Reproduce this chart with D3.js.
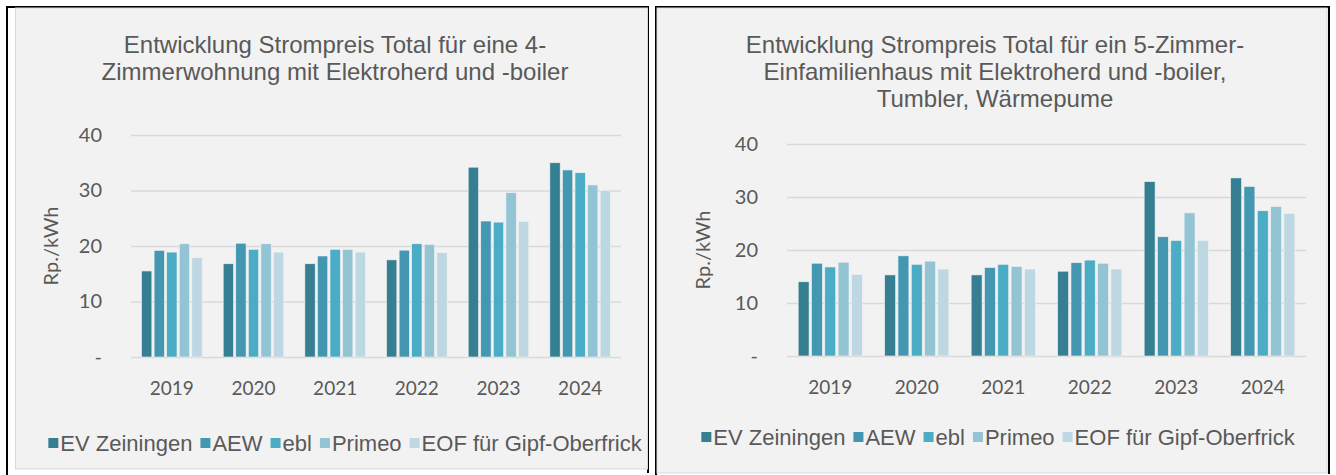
<!DOCTYPE html>
<html>
<head>
<meta charset="utf-8">
<script src="https://cdn.jsdelivr.net/npm/d3@7"></script>
<style>
  body { margin: 0; background: #fff; }
  svg { display: block; }
</style>
</head>
<body>
<svg width="1336" height="475"></svg>
<script>

const years = ["2019", "2020", "2021", "2022", "2023", "2024"]
const providers = ["EV Zeiningen", "AEW", "ebl", "Primeo", "EOF für Gipf-Oberfrick"]
const providerColors = ["#367f93", "#4397b0", "#4bacc6", "#93c4d4", "#bdd8e3"]
const yTicks = [0, 10, 20, 30, 40]

// 4-Zimmerwohnung, Rp./kWh (one array per provider, by year)
const wohnungEV = [15.5, 16.8, 16.8, 17.5, 34.2, 35.0]
const wohnungAEW = [19.2, 20.5, 18.2, 19.25, 24.5, 33.7]
const wohnungEbl = [18.9, 19.4, 19.4, 20.4, 24.3, 33.2]
const wohnungPrimeo = [20.4, 20.4, 19.4, 20.3, 29.6, 31.0]
const wohnungEOF = [17.9, 18.9, 18.9, 18.8, 24.4, 30.0]

// 5-Zimmer-Einfamilienhaus, Rp./kWh
const hausEV = [14.0, 15.3, 15.3, 16.0, 32.9, 33.6]
const hausAEW = [17.5, 18.9, 16.7, 17.6, 22.5, 32.0]
const hausEbl = [16.8, 17.3, 17.3, 18.1, 21.8, 27.4]
const hausPrimeo = [17.7, 17.9, 16.9, 17.5, 27.0, 28.2]
const hausEOF = [15.4, 16.4, 16.4, 16.4, 21.8, 26.9]

const svg = d3.select("svg")
const textColor = "#595959"

// black frames round the two charts
const frames = svg.append("g").attr("stroke", "#000").attr("stroke-width", 2).attr("fill", "none")
frames.append("path").attr("d", "M7,475 V7 H648 V473")
frames.append("path").attr("d", "M656,475 V7 H1329 V474")

function drawChart(opts) {
  const g = svg.append("g")

  g.append("rect")
    .attr("x", opts.panel[0]).attr("y", opts.panel[1])
    .attr("width", opts.panel[2]).attr("height", opts.panel[3])
    .attr("fill", "#f2f2f2")
    .attr("stroke", "#d9d9d9")
    .attr("stroke-width", 1)

  // title
  const title = g.append("text")
    .attr("text-anchor", "middle")
    .attr("font-family", "Liberation Sans, Arial, sans-serif")
    .attr("font-size", "24px")
    .attr("fill", textColor)
  opts.title.forEach((line, i) => {
    title.append("tspan")
      .attr("x", opts.titleX)
      .attr("y", opts.titleY + i * 27)
      .text(line)
  })

  const y = d3.scaleLinear()
    .domain([0, 40])
    .range([opts.bottom, opts.top])

  const x0 = d3.scaleBand()
    .domain(years)
    .range([opts.left, opts.right])

  const step = x0.bandwidth()
  const groupW = step * 0.742
  const x1 = d3.scaleBand()
    .domain(providers)
    .range([(step - groupW) / 2, (step + groupW) / 2])
    .paddingInner(0.18)
    .paddingOuter(0)

  // gridlines
  const yAxis = d3.axisLeft(y)
    .tickValues(yTicks)
    .tickSize(-(opts.right - opts.left))
    .tickFormat(d => d === 0 ? "-" : d)

  const gy = g.append("g")
    .attr("transform", `translate(${opts.left},0)`)
    .call(yAxis)
  gy.select(".domain").remove()
  gy.selectAll(".tick line").attr("stroke", "#d9d9d9").attr("stroke-width", 1.5)
  gy.selectAll(".tick text")
    .attr("fill", textColor)
    .attr("font-family", "Lato, Open Sans, sans-serif")
    .attr("font-size", "20px")
    .attr("x", -29)

  // bars
  const series = opts.values.map((vals, i) => ({ name: providers[i], vals: vals }))
  const groups = g.append("g").selectAll("g")
    .data(years)
    .join("g")
    .attr("transform", d => `translate(${x0(d)},0)`)

  groups.selectAll("rect")
    .data((yr, yi) => series.map(s => ({ name: s.name, v: s.vals[yi] })))
    .join("rect")
    .attr("x", d => x1(d.name))
    .attr("width", x1.bandwidth())
    .attr("y", d => y(d.v))
    .attr("height", d => y(0) - y(d.v))
    .attr("fill", (d, i) => providerColors[i])
    .attr("stroke", "#f2f2f2")
    .attr("stroke-width", 0.6)

  // x axis labels
  const xAxis = d3.axisBottom(x0).tickSize(0).tickPadding(0)
  const gx = g.append("g")
    .attr("transform", `translate(0,${opts.bottom})`)
    .call(xAxis)
  gx.select(".domain").remove()
  gx.selectAll(".tick text")
    .attr("fill", textColor)
    .attr("font-family", "Lato, Open Sans, sans-serif")
    .attr("font-size", "19px")
    .attr("dy", "0")
    .attr("y", 38)

  // y label
  g.append("text")
    .attr("transform", `translate(${opts.yLabelX},${(opts.top + opts.bottom) / 2}) rotate(-90)`)
    .attr("text-anchor", "middle")
    .attr("font-family", "Lato, Open Sans, sans-serif")
    .attr("font-size", "20px")
    .attr("fill", textColor)
    .text("Rp./kWh")

  // legend
  const legend = g.append("g")
    .attr("font-family", "Liberation Sans, Arial, sans-serif")
    .attr("font-size", "22px")
    .attr("fill", textColor)
  let cx = 0
  providers.forEach((p, i) => {
    legend.append("rect")
      .attr("x", cx).attr("y", opts.legendY - 5)
      .attr("width", 10).attr("height", 10)
      .attr("fill", providerColors[i])
    const t = legend.append("text")
      .attr("x", cx + 12)
      .attr("y", opts.legendY + 8)
      .text(p)
    cx += 12 + t.node().getComputedTextLength() + 8
  })
  cx -= 8
  legend.attr("transform", `translate(${opts.legendX - cx / 2},0)`)
}

drawChart({
  panel: [15.5, 8, 632, 461],
  title: ["Entwicklung Strompreis Total für eine 4-", "Zimmerwohnung mit Elektroherd und -boiler"],
  titleX: 335, titleY: 53,
  left: 131, right: 621, top: 135, bottom: 357,
  yLabelX: 58,
  values: [wohnungEV, wohnungAEW, wohnungEbl, wohnungPrimeo, wohnungEOF],
  legendX: 345, legendY: 443
})

drawChart({
  panel: [657, 8, 670, 465],
  title: ["Entwicklung Strompreis Total für ein 5-Zimmer-", "Einfamilienhaus mit Elektroherd und -boiler,", "Tumbler, Wärmepume"],
  titleX: 995, titleY: 53,
  left: 787, right: 1306, top: 144, bottom: 356,
  yLabelX: 710,
  values: [hausEV, hausAEW, hausEbl, hausPrimeo, hausEOF],
  legendX: 998, legendY: 437
})

</script>
</body>
</html>
